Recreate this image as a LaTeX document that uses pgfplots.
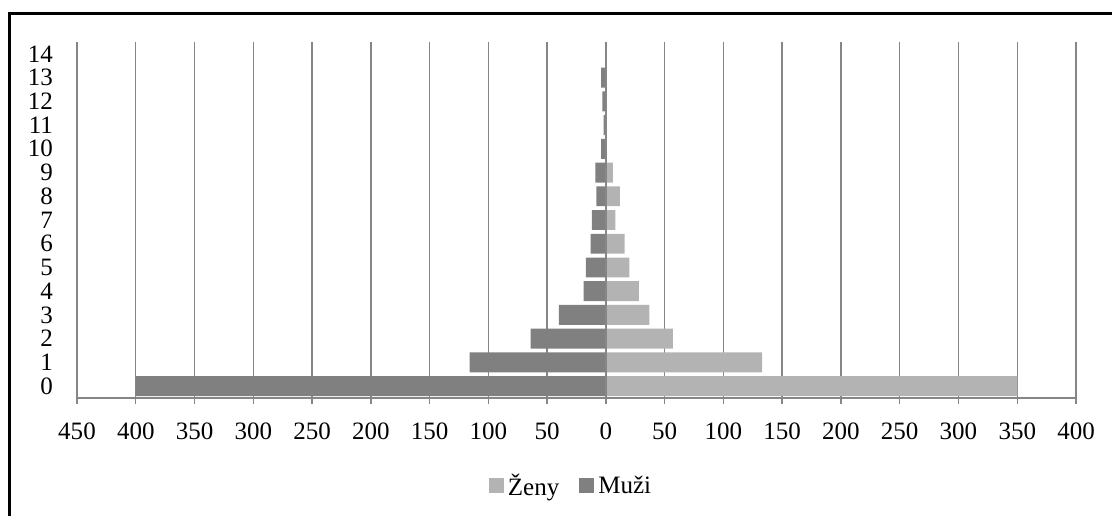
\documentclass[border=0pt]{standalone}
\usepackage{fontspec}
\setmainfont{Liberation Serif}
\usepackage{pgfplots}
\pgfplotsset{compat=1.18}

\definecolor{muzi}{RGB}{128,128,128}
\definecolor{zeny}{RGB}{179,179,179}
\definecolor{gridc}{RGB}{134,134,134}

% 1 px of the reference = 0.5pt
\begin{document}
\begin{tikzpicture}
\path[use as bounding box] (0,0) rectangle (556pt,-257.5pt);
\draw[line width=1.4pt] (4.9pt,-258pt) -- (4.9pt,-6.8pt) -- (556pt,-6.8pt);
\begin{axis}[
    at={(38.5pt,-199pt)}, anchor=south west,
    scale only axis,
    width=499.5pt, height=178pt,
    font=\fontsize{12.5pt}{14pt}\selectfont,
    /pgf/number format/assume math mode=true,
    xmin=-450, xmax=400,
    ymin=-0.5, ymax=14.5,
    xtick={-450,-400,...,400},
    xticklabels={450,400,350,300,250,200,150,100,50,0,50,100,150,200,250,300,350,400},
    ytick={0,...,14},
    axis x line*=bottom, axis y line*=left,
    x axis line style={gridc, line width=0.7pt},
    y axis line style={draw=none},
    xtick style={gridc, line width=0.7pt},
    ytick style={draw=none},
    tick align=outside,
    major tick length=3pt,
    xticklabel style={yshift=-6pt},
    yticklabel style={xshift=-5.5pt},
    xmajorgrids,
    grid style={gridc, line width=0.7pt},
    legend style={at={(0.4955,-0.247)}, anchor=center, draw=none,
        legend columns=2, font=\fontsize{12.5pt}{14pt}\selectfont,
        /tikz/every even column/.append style={column sep=8pt}},
    legend image code/.code={\fill[#1] (0pt,-3.75pt) rectangle (7.5pt,3.75pt);},
]
\addplot[xbar, bar width=0.84, bar shift=0pt, draw=none, fill=zeny] coordinates {
    (350,0) (133,1) (57,2) (37,3) (28,4) (20,5) (16,6) (8,7) (12,8) (6,9)
    (0,10) (0,11) (0,12) (0,13) (0,14)
};
\addlegendentry{Ženy}
\addplot[xbar, bar width=0.84, bar shift=0pt, draw=none, fill=muzi] coordinates {
    (-400,0) (-116,1) (-64,2) (-40,3) (-19,4) (-17,5) (-13,6) (-12,7) (-8,8) (-9,9)
    (-4,10) (-2,11) (-3,12) (-4,13) (0,14)
};
\addlegendentry{Muži}
\addplot[gridc, line width=0.7pt, forget plot] coordinates {(0,-0.5) (0,14.5)};
\end{axis}
\end{tikzpicture}
\end{document}
